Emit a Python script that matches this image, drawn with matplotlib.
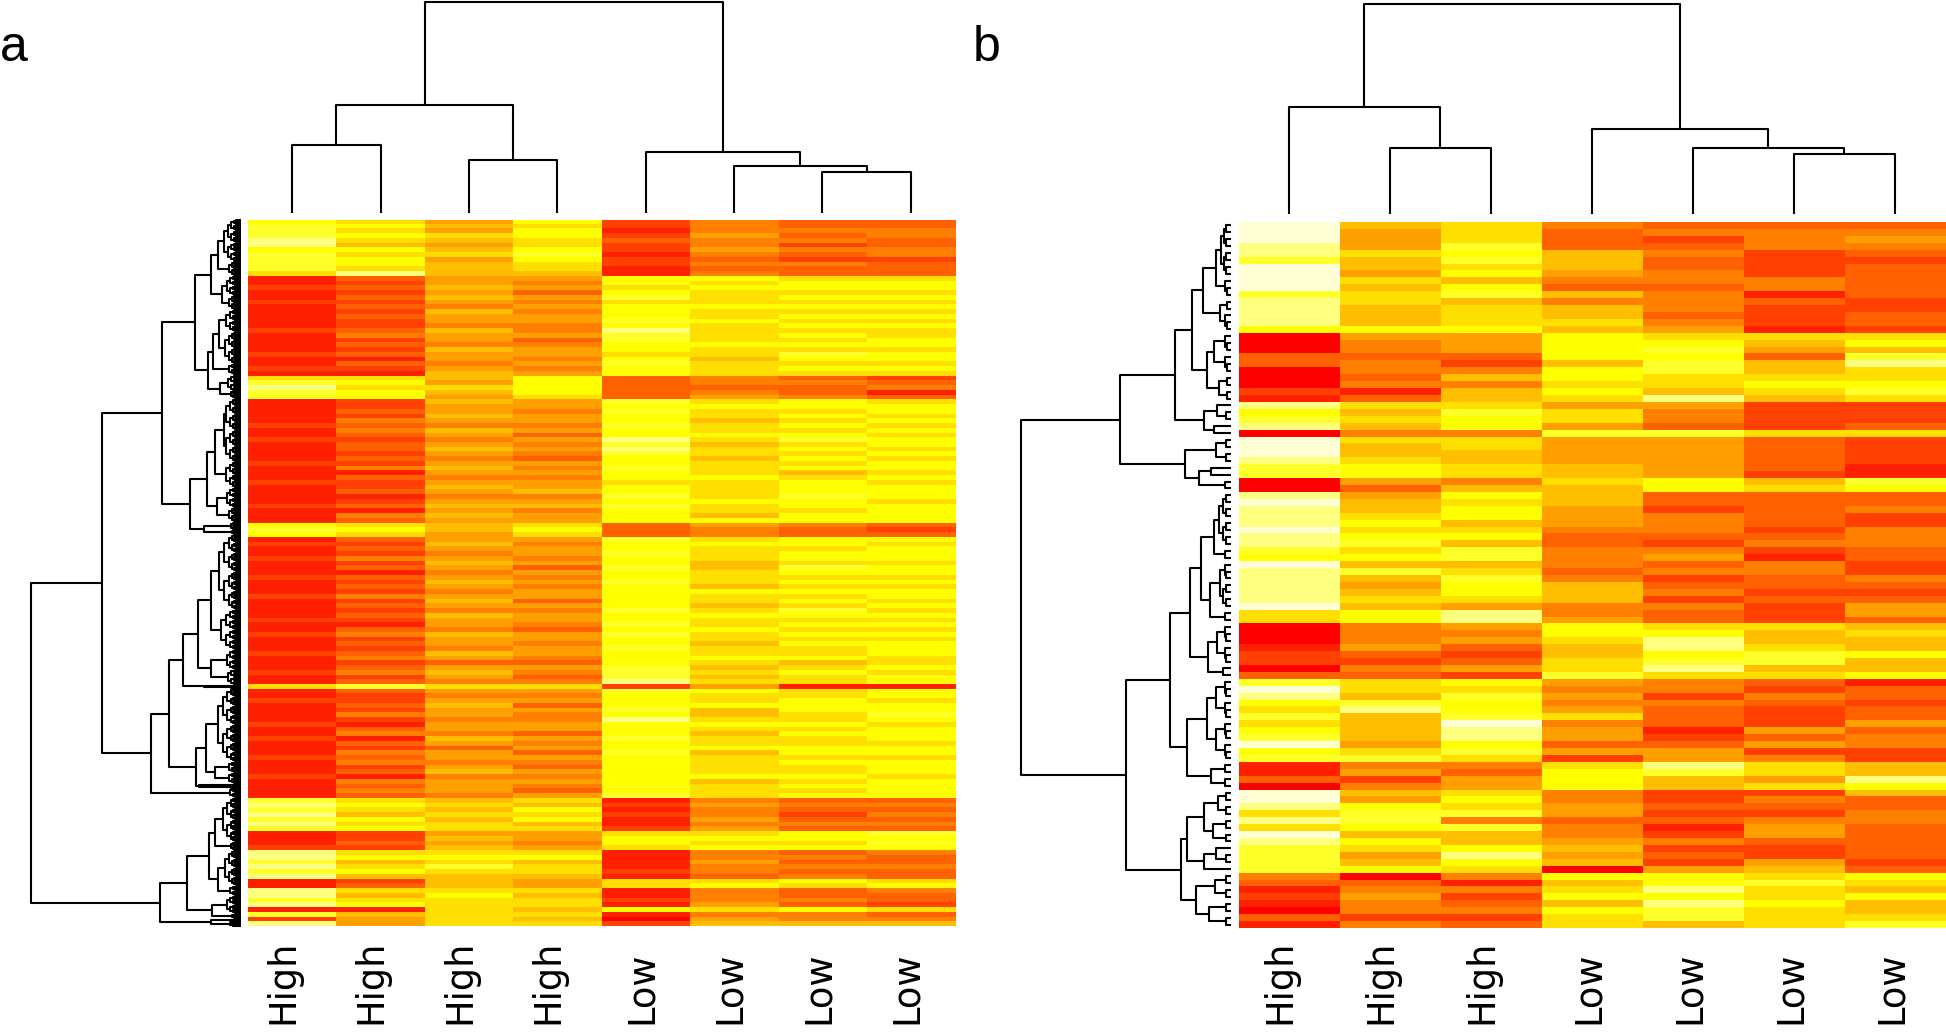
import matplotlib
matplotlib.use("Agg")
import numpy as np
from matplotlib import pyplot as plt
from matplotlib.collections import LineCollection
from matplotlib.colors import ListedColormap
from matplotlib.transforms import blended_transform_factory

W, H = 1946, 1035

# R heat.colors(12), red to pale yellow
heat_colors = ["#FF0000", "#FF2000", "#FF4000", "#FF6000", "#FF8000", "#FF9F00",
               "#FFBF00", "#FFDF00", "#FFFF00", "#FFFF2A", "#FFFF80", "#FFFFD5"]

labels_a = ["High", "High", "High", "High", "Low", "Low", "Low", "Low"]
labels_b = ["High", "High", "High", "Low", "Low", "Low", "Low"]

# panel a, colour level of each row, top to bottom
rows_a = [
    [8,7,5,8,2,4,3,3], [9,8,6,7,2,4,3,3], [9,7,5,8,1,4,4,4], [9,8,7,8,2,5,3,4],
    [10,7,6,7,3,4,4,3], [10,6,5,7,2,4,2,3], [8,8,6,8,2,5,4,4], [9,7,7,9,1,4,3,4],
    [9,8,5,8,2,3,2,2], [9,8,6,7,2,4,4,3], [9,7,6,7,1,3,3,3], [7,10,6,6,1,4,3,3],
    [1,3,5,5,8,8,7,7], [1,2,5,4,8,7,8,8], [2,3,6,5,7,8,8,8], [1,2,5,3,8,7,7,7],
    [1,3,6,5,9,7,8,8], [2,2,5,4,7,7,7,7], [1,3,4,5,8,8,8,8], [1,2,6,4,8,7,7,7],
    [1,3,5,5,8,7,8,8], [1,2,5,5,9,8,7,7], [1,2,4,4,8,7,8,8], [2,3,6,4,10,7,7,7],
    [1,4,5,5,9,7,8,7], [1,2,5,3,9,7,7,8], [1,3,4,4,8,8,8,8], [1,2,6,5,8,7,7,7],
    [2,3,5,5,7,7,9,8], [1,1,5,4,8,6,8,8], [1,3,4,5,9,7,7,7], [2,2,5,4,8,7,8,8],
    [1,1,6,5,8,7,7,7],
    [7,7,6,8,3,4,3,2], [9,8,5,8,3,4,4,3], [10,7,7,8,3,3,3,4], [9,8,6,8,3,4,3,1], [9,8,5,7,3,5,4,3],
    [1,2,6,5,9,7,8,7], [1,2,5,5,8,8,8,8], [1,3,5,4,9,7,7,8], [1,2,6,5,8,7,8,7],
    [1,4,5,5,8,6,7,8], [2,3,4,4,9,7,8,7], [1,4,6,5,8,7,7,8], [1,3,5,3,8,8,8,7],
    [2,2,4,5,10,7,9,8], [1,3,5,4,9,6,7,8], [1,3,6,5,10,7,8,7], [1,2,5,4,9,7,7,8],
    [1,3,4,3,8,6,8,7], [2,2,5,5,8,7,7,8], [1,4,6,4,9,7,8,8], [1,1,5,5,8,7,6,7],
    [1,3,4,4,8,8,7,8], [2,2,5,5,7,7,8,7], [1,2,6,5,8,7,8,8], [1,3,5,6,8,7,8,8],
    [1,1,4,4,9,7,9,8], [1,2,5,5,8,8,8,7], [2,3,6,6,9,7,8,8], [1,1,5,4,8,7,7,8],
    [1,4,6,5,8,6,8,8], [1,3,5,5,8,8,8,8],
    [8,7,6,7,3,5,4,3], [9,8,6,8,3,4,3,2], [8,7,5,7,3,4,3,3],
    [1,3,5,5,9,7,8,8], [2,2,6,4,8,8,8,7], [1,3,5,5,8,7,7,8], [1,2,4,5,9,7,8,8],
    [2,4,5,4,8,7,8,8], [1,2,6,5,8,6,7,7], [1,3,5,3,9,6,9,8], [1,1,4,5,8,7,8,8],
    [2,3,5,4,8,7,7,7], [1,2,6,5,9,7,8,8], [1,3,5,4,8,6,7,7], [1,2,4,5,8,8,8,8],
    [2,4,5,5,8,7,7,8], [1,2,6,3,8,7,8,7], [1,3,5,5,8,6,7,8], [1,2,4,4,9,7,9,7],
    [1,3,6,5,8,8,8,8], [2,2,5,5,8,7,7,7], [1,1,5,4,9,7,8,8], [1,3,4,3,8,8,7,7],
    [2,4,6,5,9,7,8,8], [1,2,5,5,8,7,7,7], [1,3,5,4,8,6,8,8], [1,2,4,5,9,7,7,8],
    [2,3,6,5,8,7,7,8], [1,4,5,4,8,8,8,7], [1,2,3,3,8,7,6,7], [1,3,5,5,9,6,7,8],
    [2,4,6,4,9,7,8,7], [1,2,5,3,9,6,7,8], [1,3,4,4,10,7,7,8],
    [7,9,7,7,2,5,1,1],
    [1,3,5,5,9,8,7,8], [1,2,4,4,8,7,7,8], [2,2,5,5,8,7,8,7], [1,3,6,3,8,8,8,8],
    [1,2,5,5,9,6,8,8], [1,4,5,4,8,6,7,9], [1,2,4,4,10,7,7,8], [2,1,5,5,8,8,8,7],
    [1,3,5,5,8,7,7,8], [1,4,4,3,8,6,8,8], [2,1,6,5,9,7,7,8], [1,3,5,4,8,7,7,7],
    [1,2,3,5,8,8,8,8], [1,4,5,3,9,6,8,8], [2,3,5,5,8,7,7,7], [1,4,4,4,8,7,8,8],
    [1,2,5,3,8,7,7,8], [1,3,6,5,8,7,7,8], [2,1,4,4,8,8,8,7], [1,4,5,5,8,6,7,8],
    [1,3,5,4,8,7,8,8], [1,4,5,3,8,7,7,8], [1,3,4,5,9,7,8,8],
    [9,7,6,7,1,4,3,3], [10,8,7,6,2,5,4,4], [9,7,6,8,1,4,3,3], [10,6,7,7,2,4,2,4],
    [9,8,6,8,1,5,3,3], [10,7,7,6,1,4,4,4], [9,8,7,7,2,5,3,3],
    [1,2,5,5,7,7,8,9], [1,2,6,5,8,8,8,8], [1,3,5,4,8,7,7,9], [2,2,6,5,7,8,8,8],
    [10,7,7,7,1,4,3,4], [10,8,8,8,1,4,4,3], [9,6,7,6,1,5,3,3], [10,7,9,7,1,4,4,4],
    [9,8,7,7,2,4,3,3], [10,6,6,6,1,3,4,3],
    [1,2,6,5,7,7,8,7], [1,3,6,5,7,8,7,8],
    [10,7,7,7,1,4,3,4], [10,6,8,6,1,4,3,3], [9,7,7,7,2,4,4,3], [10,8,7,7,1,5,3,2],
    [1,1,7,6,8,7,8,7],
    [9,6,7,7,1,4,4,3],
    [2,5,7,6,0,5,4,4],
    [10,5,7,7,2,6,6,6],
]

# panel b, colour level of each row, top to bottom
rows_b = [
    [11,6,7,4,3,3,3], [11,5,7,3,4,4,4], [11,5,7,3,2,4,5], [10,5,9,3,3,4,4],
    [10,7,8,6,4,2,3], [9,6,9,6,3,2,2], [11,6,7,6,3,2,3], [11,5,8,5,4,2,3],
    [11,7,6,4,4,4,3], [11,6,8,3,3,4,3], [9,7,9,6,4,1,3], [10,7,6,4,4,3,2],
    [10,6,7,6,4,2,2], [10,6,7,6,3,2,3], [10,6,7,7,4,2,3], [8,8,8,6,5,1,2],
    [0,5,5,8,7,7,7], [0,4,5,8,8,6,8], [0,4,5,8,9,5,6], [3,3,3,8,8,3,9],
    [3,4,2,6,9,6,10], [0,4,4,8,9,6,7], [0,3,6,8,7,7,7], [0,4,4,7,7,8,8],
    [2,1,6,8,6,7,9], [1,3,6,7,10,6,7], [10,7,7,5,5,2,2], [8,6,9,7,4,2,2],
    [9,7,8,7,4,2,2], [10,6,8,5,3,2,3], [0,4,4,9,9,7,7], [11,7,7,5,5,3,2],
    [11,6,7,5,5,3,2], [11,6,6,5,5,3,2], [10,7,6,5,5,3,2], [9,8,7,6,5,3,1],
    [9,8,7,6,5,2,1], [0,5,4,7,8,6,9], [0,3,6,6,8,7,8], [10,5,8,6,3,3,3],
    [11,6,7,6,3,3,3], [10,6,8,5,2,3,4], [10,7,8,5,4,3,2], [10,8,6,5,4,3,2],
    [11,7,7,4,4,2,4], [10,8,8,3,3,3,4], [10,9,6,3,2,4,4], [9,7,9,4,4,2,3],
    [8,8,9,4,5,1,3], [11,6,6,4,3,4,2], [10,9,7,3,4,4,2], [10,6,9,4,2,3,4],
    [10,5,8,6,3,3,3], [10,6,8,6,4,2,2], [10,7,7,6,2,3,3], [11,6,5,4,4,2,5],
    [7,8,10,4,3,2,5], [7,8,10,5,3,2,3], [0,4,5,8,7,7,6], [0,4,4,8,8,6,7],
    [0,4,5,7,10,6,6], [1,5,3,6,10,7,6], [2,3,2,6,8,9,8], [2,2,3,7,9,9,6],
    [0,4,5,7,10,6,6], [3,3,2,9,7,7,8], [9,7,8,5,4,3,1], [11,7,7,4,4,2,3],
    [10,6,9,5,2,4,3], [8,9,8,4,4,3,2], [7,10,8,5,3,2,3], [9,6,9,7,3,2,3],
    [7,6,11,4,3,2,5], [8,6,10,5,1,5,3], [9,6,10,5,2,3,4], [11,5,8,3,3,5,4],
    [8,7,9,5,5,2,2], [9,9,7,2,5,4,2], [1,4,4,7,10,7,6], [1,5,3,8,9,7,6],
    [3,2,5,8,6,5,10], [0,4,5,8,6,7,8], [11,6,7,4,2,2,6], [11,5,8,4,2,4,3],
    [10,8,7,5,3,3,3], [7,9,9,5,2,2,4], [10,9,4,3,3,4,4], [7,8,9,4,1,5,3],
    [11,6,6,4,2,5,3], [10,8,6,5,4,3,3], [9,7,8,6,2,2,3], [9,5,10,5,3,2,3],
    [9,6,8,6,2,5,2], [9,8,7,0,5,6,3], [4,0,4,8,8,7,8], [3,3,1,6,8,9,7],
    [1,4,4,7,10,7,6], [2,5,2,8,8,7,8], [1,4,3,6,10,8,6], [0,4,4,8,9,7,6],
    [3,2,2,7,9,7,7], [1,4,3,7,6,7,9],
]

# dendrograms: (height, upper, lower) is a merge, [leaf count, height] is a leaf cluster
top_a = (211, (108, (68, [1, 0], [1, 0]), (53, [1, 0], [1, 0])),
         (61, [1, 0], (47, [1, 0], (41, [1, 0], [1, 0]))))
top_b = (210, (107, [1, 0], (66, [1, 0], [1, 0])),
         (85, [1, 0], (66, [1, 0], (60, [1, 0], [1, 0]))))

a1a = (46, (30, (23, (17, [23, 13], [19, 13]), [14, 12]), (19, [20, 14], [14, 12])),
       (33, (28, (22, [22, 15], [32, 16]), [11, 12]), (21, [16, 13], [7, 10])))
a1b = (51, (34, (26, (17, [32, 15], [32, 15]), [26, 15]), (24, [20, 14], [14, 12])),
       (37, [8, 10], [4, 9]))
a2 = (90, (72, (58, (43, (30, [76, 22], [40, 20]), (30, [20, 14], [15, 13])), [3, 37]),
           (45, (35, (23, [37, 18], [37, 18]), (26, [11, 12], [11, 12])), [4, 42])),
      [10, 11])
a3 = (81, (54, (32, (26, [44, 18], [8, 10]), (23, [36, 16], [10, 11])),
           (29, [18, 14], [5, 9])), [7, 30])
left_a = (210, (139, (79, a1a, a1b), a2), a3)

c1 = (39, (28, (15, [8, 10], [3, 6]), (11, [2, 4], [3, 6])),
      (24, (17, [3, 6], [3, 6]), (12, [2, 4], [2, 4])))
c2 = (27, (14, [2, 5], [1, 0]), (17, [1, 0], [1, 0]))
c3 = (46, [4, 15], (32, (20, [1, 0], [1, 0]), [2, 6]))
upper_b = (111, (56, c1, (27, [3, 14], [2, 17])), c3)
d1 = (41, (30, (17, [8, 12], [2, 6]), (21, [7, 11], [2, 6])),
      (23, [6, 14], [2, 8]))
d2 = (44, (24, [6, 15], [6, 15]), (20, [2, 6], [2, 6]))
d3 = (44, (27, [4, 13], [4, 18]), (27, [3, 15], [1, 0]))
d4 = (35, [4, 16], [4, 22])
lower_b = (105, (61, d1, d2), (50, d3, d4))
left_b = (210, upper_b, lower_b)


def px_axes(fig, x0, y0, x1, y1):
    ax = fig.add_axes([x0 / W, 1 - y1 / H, (x1 - x0) / W, (y1 - y0) / H])
    ax.set_axis_off()
    return ax


def walk(node, pos, segs, base, k):
    # returns leaf-axis position and height of a node, and adds its lines to segs
    if isinstance(node, list):
        count, h = node
        if count <= 1:
            pos[0] += count
            return pos[0] - count / 2, 0
        first = count // 2
        second = count - first
        node = (h,
                [first, 0 if first <= 1 else min(0.75 * h, base + k * first)],
                [second, 0 if second <= 1 else min(0.75 * h, base + k * second)])
    h, upper, lower = node
    p1, h1 = walk(upper, pos, segs, base, k)
    p2, h2 = walk(lower, pos, segs, base, k)
    segs.append([(p1, h1), (p1, h), (p2, h), (p2, h2)])
    return (p1 + p2) / 2, h


def draw_top(ax, tree, n, hmax):
    segs = []
    walk(tree, [0], segs, 2, 1)
    ax.add_collection(LineCollection(segs, colors="black", linewidths=1.5, clip_on=False, capstyle="butt"))
    ax.set_xlim(0, n)
    ax.set_ylim(0, hmax)


def draw_left(ax, tree, n, hmax, base, k):
    segs = []
    walk(tree, [0], segs, base, k)
    segs = [[(h, p) for p, h in s] for s in segs]
    ax.add_collection(LineCollection(segs, colors="black", linewidths=1.5, clip_on=False, capstyle="butt"))
    ax.set_xlim(hmax, 0)
    ax.set_ylim(n, 0)


def draw_labels(fig, ax, labels):
    trans = blended_transform_factory(ax.transData, fig.transFigure)
    col_px = ax.get_window_extent().width / len(labels)
    for i, lab in enumerate(labels):
        # Low sits further right of its column centre than High
        shift_px = 1 if lab == "High" else 6
        ax.text(i + 0.5 + shift_px / col_px, 10.5 / H, lab,
                transform=trans, rotation=90, rotation_mode="anchor", ha="left", va="baseline",
                fontsize=26.5, family="DejaVu Sans", color="black", clip_on=False)


fig = plt.figure(figsize=(W / 100, H / 100), dpi=100)
cmap = ListedColormap(heat_colors)

heat_a = px_axes(fig, 248, 220, 955, 926)
heat_a.imshow(np.array(rows_a), cmap=cmap, vmin=-0.5, vmax=11.5, aspect="auto", interpolation="nearest",
              extent=(0, len(labels_a), len(rows_a), 0))
heat_b = px_axes(fig, 1239, 222, 1946, 928)
heat_b.imshow(np.array(rows_b), cmap=cmap, vmin=-0.5, vmax=11.5, aspect="auto", interpolation="nearest",
              extent=(0, len(labels_b), len(rows_b), 0))

draw_top(px_axes(fig, 248, 2, 955, 213), top_a, len(labels_a), 211)
draw_top(px_axes(fig, 1238, 4, 1945, 214), top_b, len(labels_b), 210)
draw_left(px_axes(fig, 31, 220, 241, 926), left_a, 706, 210, 9, 0.55)
draw_left(px_axes(fig, 1021, 222, 1231, 928), left_b, len(rows_b), 210, 2, 1.5)

draw_labels(fig, heat_a, labels_a)
draw_labels(fig, heat_b, labels_b)

fig.text(0 / W, 1 - 61 / H, "a", fontsize=36, family="Liberation Sans")
fig.text(973 / W, 1 - 61 / H, "b", fontsize=36, family="Liberation Sans")

fig.savefig("out.png", dpi=100)
